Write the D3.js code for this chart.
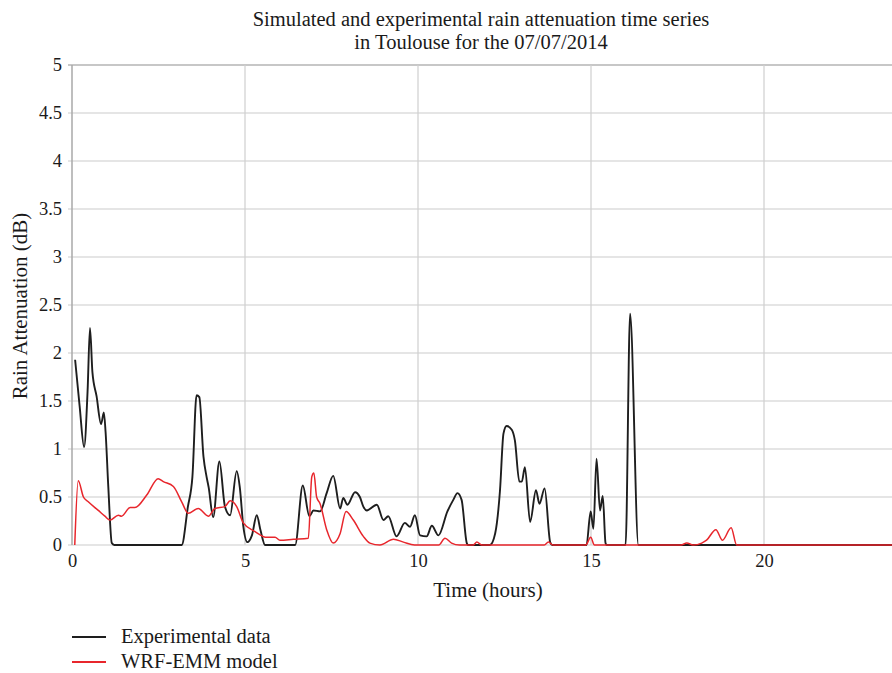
<!DOCTYPE html>
<html>
<head>
<meta charset="utf-8">
<script src="https://cdn.jsdelivr.net/npm/d3@7"></script>
<style>
  body { margin: 0; background: #fff; }
  text { font-family: "Liberation Serif", "DejaVu Serif", serif; fill: #1a1a1a; }
</style>
</head>
<body>
<script>
// Experimental data (black), hours / dB
var expTime = [0.09, 0.22, 0.35, 0.45, 0.52, 0.59, 0.71, 0.84, 0.92, 0.97, 1.05, 1.15, 1.22,
  3.17, 3.35, 3.48, 3.6, 3.68, 3.8, 3.89, 3.95, 4.08, 4.26, 4.42, 4.57, 4.76, 4.85, 4.95, 5.07, 5.2, 5.34, 5.45, 5.58,
  6.45, 6.67, 6.86, 6.98, 7.17, 7.36, 7.55, 7.75, 7.84, 7.96, 8.18, 8.32, 8.42, 8.52, 8.81, 9.0, 9.14, 9.38, 9.62,
  9.77, 9.91, 10.06, 10.25, 10.4, 10.59, 10.85, 11.02, 11.14, 11.26, 11.41, 11.45,
  12.08, 12.23, 12.37, 12.47, 12.56, 12.71, 12.8, 12.93, 13.0, 13.09, 13.24, 13.41, 13.51, 13.66, 13.82, 13.88,
  14.87, 14.99, 15.07, 15.16, 15.26, 15.34, 15.42, 15.45, 16.0, 16.13, 16.37, 24]
var expValue = [1.93, 1.45, 1.02, 1.6, 2.26, 1.8, 1.55, 1.26, 1.38, 1.18, 0.6, 0.02, 0,
  0, 0.4, 0.71, 1.56, 1.54, 0.92, 0.71, 0.6, 0.29, 0.87, 0.4, 0.31, 0.77, 0.6, 0.2, 0.03, 0.1, 0.31, 0.15, 0,
  0, 0.62, 0.3, 0.36, 0.35, 0.54, 0.72, 0.38, 0.49, 0.42, 0.55, 0.5, 0.4, 0.36, 0.42, 0.26, 0.3, 0.09, 0.23,
  0.19, 0.31, 0.1, 0.09, 0.2, 0.1, 0.35, 0.47, 0.54, 0.47, 0.02, 0,
  0, 0.12, 0.57, 1.16, 1.24, 1.2, 1.09, 0.66, 0.66, 0.81, 0.24, 0.57, 0.43, 0.59, 0.03, 0,
  0, 0.35, 0.17, 0.9, 0.36, 0.51, 0.02, 0, 0, 2.41, 0, 0]

// WRF-EMM model (red)
var modTime = [0.08, 0.18, 0.33, 0.47, 0.76, 0.95, 1.1, 1.34, 1.43, 1.68, 1.82, 2.16, 2.49, 2.64, 2.93, 3.17,
  3.36, 3.65, 3.94, 4.13, 4.42, 4.57, 4.76, 4.95, 5.29, 5.63, 5.87, 6.01, 6.4, 6.83, 6.93, 6.99, 7.07, 7.17,
  7.36, 7.55, 7.75, 7.92, 8.13, 8.42, 8.61, 8.9, 9.29, 9.58, 9.9, 10.6, 10.78, 10.97, 11.2, 11.6, 11.7, 11.85,
  13.65, 13.77, 13.9, 14.85, 14.99, 15.1, 17.6, 17.77, 17.95, 18.2, 18.34, 18.61, 18.8, 19.05, 19.21, 24]
var modValue = [0, 0.67, 0.5, 0.45, 0.36, 0.3, 0.26, 0.31, 0.3, 0.39, 0.39, 0.52, 0.69, 0.66, 0.61, 0.45,
  0.33, 0.38, 0.3, 0.38, 0.4, 0.46, 0.4, 0.23, 0.14, 0.08, 0.08, 0.05, 0.06, 0.07, 0.71, 0.75, 0.5, 0.43,
  0.16, 0.02, 0.12, 0.35, 0.26, 0.09, 0.02, 0, 0.06, 0.03, 0, 0, 0.07, 0.02, 0, 0, 0.03, 0,
  0, 0.03, 0, 0, 0.08, 0, 0, 0.02, 0, 0.02, 0.05, 0.16, 0.05, 0.18, 0, 0]

var xTicks = [0, 5, 10, 15, 20]
var yTicks = [0, 0.5, 1, 1.5, 2, 2.5, 3, 3.5, 4, 4.5, 5]
var seriesNames = ["Experimental data", "WRF-EMM model"]
var seriesColors = ["#1e1e1e", "#e8262c"]

var W = 892, H = 673
var margin = {left: 72, top: 65, bottom: 545}

var x = d3.scaleLinear().domain([0, 24]).range([margin.left, margin.left + 24 * 34.6])
var y = d3.scaleLinear().domain([0, 5]).range([margin.bottom, margin.top])

var svg = d3.select("body").append("svg")
    .attr("width", W)
    .attr("height", H)

svg.append("defs").append("clipPath").attr("id", "plot")
  .append("rect").attr("x", margin.left).attr("y", margin.top - 2)
    .attr("width", W - margin.left).attr("height", margin.bottom - margin.top + 4)

// horizontal grid
svg.append("g").selectAll("line")
    .data(yTicks)
  .enter().append("line")
    .attr("x1", margin.left - 4).attr("x2", W)
    .attr("y1", d => y(d)).attr("y2", d => y(d))
    .attr("stroke", d => d == 5 ? "#b4b4b4" : "#dcdcdc")
    .attr("stroke-width", 1.5)

// vertical grid
svg.append("g").selectAll("line")
    .data(xTicks.slice(1))
  .enter().append("line")
    .attr("x1", d => x(d)).attr("x2", d => x(d))
    .attr("y1", margin.top).attr("y2", margin.bottom)
    .attr("stroke", "#cfcfcf")
    .attr("stroke-width", 1.2)

// left axis line
svg.append("line")
    .attr("x1", margin.left).attr("x2", margin.left)
    .attr("y1", margin.top).attr("y2", margin.bottom)
    .attr("stroke", "#a8a8a8").attr("stroke-width", 1.5)

// tick labels from d3 axes
var yAxis = d3.axisLeft(y).tickValues(yTicks).tickSize(0).tickPadding(10).tickFormat(d3.format("~g"))
var xAxis = d3.axisBottom(x).tickValues(xTicks).tickSize(0).tickPadding(9)

var gy = svg.append("g").attr("transform", "translate(" + margin.left + ",0)").call(yAxis)
var gx = svg.append("g").attr("transform", "translate(0," + margin.bottom + ")").call(xAxis)
gy.select(".domain").remove()
gx.select(".domain").remove()
svg.selectAll(".tick text").style("font-size", "18.5px").attr("fill", "#1a1a1a")

// lines
var line = d3.line().x(d => x(d[0])).y(d => y(d[1])).curve(d3.curveMonotoneX)
var series = [d3.zip(expTime, expValue), d3.zip(modTime, modValue)]

svg.append("g").attr("clip-path", "url(#plot)")
  .selectAll("path")
    .data(series)
  .enter().append("path")
    .attr("d", line)
    .attr("fill", "none")
    .attr("stroke", (d, i) => seriesColors[i])
    .attr("stroke-width", (d, i) => i == 0 ? 1.9 : 1.5)
    .attr("stroke-linejoin", "round")

// titles
svg.append("text").attr("x", 481).attr("y", 26).attr("text-anchor", "middle")
    .style("font-size", "20.5px").text("Simulated and experimental rain attenuation time series")
svg.append("text").attr("x", 481).attr("y", 49).attr("text-anchor", "middle")
    .style("font-size", "20.5px").text("in Toulouse for the 07/07/2014")

svg.append("text").attr("x", 488).attr("y", 597).attr("text-anchor", "middle")
    .style("font-size", "21px").text("Time (hours)")
svg.append("text").attr("transform", "translate(27,306) rotate(-90)").attr("text-anchor", "middle")
    .style("font-size", "21px").text("Rain Attenuation (dB)")

// legend
var lg = svg.append("g").selectAll("g")
    .data(seriesNames)
  .enter().append("g")
    .attr("transform", (d, i) => "translate(72," + (637 + i * 25) + ")")
lg.append("line").attr("x1", 0).attr("x2", 34)
    .attr("stroke", (d, i) => seriesColors[i]).attr("stroke-width", 1.8)
lg.append("text").attr("x", 49).attr("y", 6).style("font-size", "20.5px").text(d => d)
</script>
</body>
</html>
